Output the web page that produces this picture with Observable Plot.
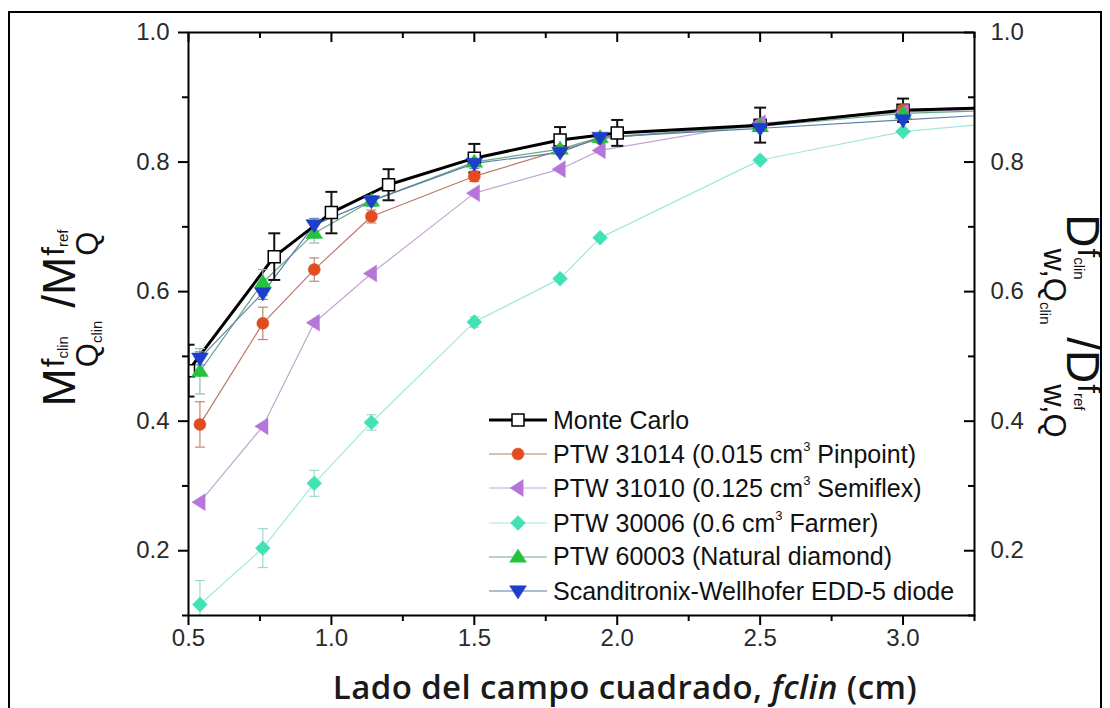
<!DOCTYPE html>
<html>
<head>
<meta charset="utf-8">
<script src="https://cdn.jsdelivr.net/npm/d3@7"></script>
<script src="https://cdn.jsdelivr.net/npm/@observablehq/plot@0.6"></script>
<style>
  body { margin: 0; background: #fff; }
  #wrap { position: relative; width: 1110px; height: 708px; overflow: hidden; background: #fff;
          font-family: "Liberation Sans", Arial, sans-serif; }
  #chart { position: absolute; left: 0; top: 0; }
  #frame { position: absolute; left: 8px; top: 11px; width: 1094px; height: 720px; border: 2px solid #000;
           box-sizing: border-box; pointer-events: none; }
  .ylab { position: absolute; white-space: nowrap; color: #111; line-height: 1; }
  .ylab .big { font-size: 46px; }
  .stack { display: inline-flex; flex-direction: column; vertical-align: middle; line-height: 1; margin-left: 1px; }
  .stack .sp { font-size: 31px; margin-bottom: 2px; }
  .stack .sb { font-size: 31px; }
  .stack sub { font-size: 15px; vertical-align: -4px; }
  #legend { position: absolute; left: 487px; top: 403px; font-size: 25px; color: #111; }
  #legend .row { height: 34.2px; display: flex; align-items: center; white-space: nowrap; }
  #legend svg { width: 62px; height: 30px; margin-right: 4px; }
  #legend sup { font-size: 13px; vertical-align: 12px; }
  #xtitle { position: absolute; left: 625px; top: 686px; transform: translate(-50%, -50%);
            font-family: "Open Sans", sans-serif; font-size: 33px; font-weight: 600; letter-spacing: 0.4px;
            color: #1a1a1a; white-space: nowrap; }
</style>
</head>
<body>
<div id="wrap">
  <div id="chart"></div>
  <div id="legend"></div>
  <div id="xtitle">Lado del campo cuadrado, <i>fclin</i> (cm)</div>
  <div id="frame"></div>
</div>
<script>
// ---------------- data ----------------
const xMC  = [0.50, 0.80, 1.00, 1.20, 1.50, 1.80, 2.00, 2.50, 3.00, 3.50];
const xDet = [0.54, 0.76, 0.94, 1.14, 1.50, 1.80, 1.94, 2.50, 3.00, 3.50];

const mcVal   = [0.478, 0.654, 0.722, 0.765, 0.806, 0.834, 0.845, 0.857, 0.880, 0.886];
const mcErr   = [0.040, 0.036, 0.032, 0.024, 0.022, 0.020, 0.020, 0.027, 0.018, 0];

const p31014Val = [0.395, 0.551, 0.634, 0.716, 0.778, 0.818, 0.836, 0.858, 0.881, 0.888];
const p31014Err = [0.035, 0.025, 0.018, 0.010, 0.008, 0, 0, 0, 0, 0];

const p31010Val = [0.275, 0.392, 0.552, 0.628, 0.752, 0.789, 0.818, 0.860, 0.877, 0.885];
const p31010Err = [0, 0, 0, 0, 0, 0, 0, 0, 0, 0];

const p30006Val = [0.117, 0.204, 0.304, 0.398, 0.553, 0.620, 0.683, 0.803, 0.847, 0.867];
const p30006Err = [0.037, 0.030, 0.020, 0.012, 0.008, 0, 0, 0, 0, 0];

const p60003Val = [0.477, 0.614, 0.690, 0.740, 0.800, 0.820, 0.838, 0.855, 0.875, 0.882];
const p60003Err = [0.035, 0.020, 0.015, 0.008, 0, 0, 0, 0, 0, 0];

const eddVal = [0.497, 0.598, 0.703, 0.740, 0.798, 0.815, 0.838, 0.852, 0.865, 0.878];
const eddErr = [0.010, 0.010, 0.010, 0.008, 0.008, 0, 0, 0, 0, 0];

const seriesLabels = [
  "Monte Carlo",
  "PTW 31014 (0.015 cm<sup>3</sup> Pinpoint)",
  "PTW 31010 (0.125 cm<sup>3</sup> Semiflex)",
  "PTW 30006 (0.6 cm<sup>3</sup> Farmer)",
  "PTW 60003 (Natural diamond)",
  "Scanditronix-Wellhofer EDD-5 diode"
];

const xMajor = [0.5, 1.0, 1.5, 2.0, 2.5, 3.0];
const xMinor = [0.75, 1.25, 1.75, 2.25, 2.75, 3.25];
const yMajor = [0.2, 0.4, 0.6, 0.8, 1.0];
const yMinor = [0.1, 0.3, 0.5, 0.7, 0.9];

// ---------------- symbols ----------------
const triDown = { draw(c, size) { const r = Math.sqrt(size / Math.PI) * 1.2;
  c.moveTo(-r, -r * 0.62); c.lineTo(r, -r * 0.62); c.lineTo(0, r * 0.95); c.closePath(); } };
const triUp = { draw(c, size) { const r = Math.sqrt(size / Math.PI) * 1.2;
  c.moveTo(-r, r * 0.62); c.lineTo(r, r * 0.62); c.lineTo(0, -r * 0.95); c.closePath(); } };
const triLeft = { draw(c, size) { const r = Math.sqrt(size / Math.PI) * 1.2;
  c.moveTo(r * 0.62, -r); c.lineTo(r * 0.62, r); c.lineTo(-r * 0.95, 0); c.closePath(); } };
const diamond = { draw(c, size) { const r = Math.sqrt(size / Math.PI) * 1.15;
  c.moveTo(0, -r); c.lineTo(r, 0); c.lineTo(0, r); c.lineTo(-r, 0); c.closePath(); } };
const square = { draw(c, size) { const r = Math.sqrt(size / Math.PI);
  c.moveTo(-r, -r); c.lineTo(r, -r); c.lineTo(r, r); c.lineTo(-r, r); c.closePath(); } };
const circle = { draw(c, size) { const r = Math.sqrt(size / Math.PI); c.moveTo(r, 0); c.arc(0, 0, r, 0, 2 * Math.PI); } };
const cap = { draw(c, size) { const r = Math.sqrt(size / Math.PI); c.moveTo(-r, 0); c.lineTo(r, 0); } };

// style configuration (separate from data)
const series = [
  { x: xMC,  v: mcVal,     e: mcErr,     label: seriesLabels[0], line: "#000", lw: 3, err: "#111", ew: 2, capR: 6,
    sym: square, r: 6, fill: "#fff", stroke: "#000", sw: 1.5 },
  { x: xDet, v: p31014Val, e: p31014Err, label: seriesLabels[1], line: "#b97a68", lw: 1.2, err: "#c0866f", ew: 1.2, capR: 5,
    sym: circle, r: 6, fill: "#e34b20", stroke: "#e34b20", sw: 0.5 },
  { x: xDet, v: p31010Val, e: p31010Err, label: seriesLabels[2], line: "#c3a6d3", lw: 1.2, err: "#c3a6d3", ew: 1.2, capR: 5,
    sym: triLeft, r: 7, fill: "#b676d9", stroke: "#b676d9", sw: 0.5 },
  { x: xDet, v: p30006Val, e: p30006Err, label: seriesLabels[3], line: "#a2e7df", lw: 1.2, err: "#9fd8cf", ew: 1.2, capR: 5,
    sym: diamond, r: 6.5, fill: "#43e2b6", stroke: "#43e2b6", sw: 0.5 },
  { x: xDet, v: p60003Val, e: p60003Err, label: seriesLabels[4], line: "#6aa98a", lw: 1.2, err: "#8fbfa0", ew: 1.2, capR: 5,
    sym: triUp, r: 7, fill: "#25c23e", stroke: "#25c23e", sw: 0.5 },
  { x: xDet, v: eddVal,    e: eddErr,    label: seriesLabels[5], line: "#5d7cae", lw: 1.2, err: "#6d88b8", ew: 1.2, capR: 5,
    sym: triDown, r: 7, fill: "#1d3fca", stroke: "#1d3fca", sw: 0.5 }
];

const rowsOf = s => s.x.map((x, i) => ({ x, y: s.v[i], e: s.e[i] }));

// ---------------- layout ----------------
const W = 1110, H = 708, mL = 188, mR = 136, mT = 32, mB = 93;
const plotW = W - mL - mR, plotH = H - mT - mB;

const marks = [];
series.slice(1).forEach(s => marks.push(Plot.line(rowsOf(s), { x: "x", y: "y", stroke: s.line, strokeWidth: s.lw, clip: true })));
marks.push(Plot.line(rowsOf(series[0]), { x: "x", y: "y", stroke: series[0].line, strokeWidth: series[0].lw, clip: true }));

series.forEach(s => {
  const rows = rowsOf(s).filter(d => d.e > 0);
  marks.push(Plot.ruleX(rows, { x: "x", y1: d => d.y - d.e, y2: d => d.y + d.e, stroke: s.err, strokeWidth: s.ew, clip: true }));
  marks.push(Plot.dot(rows, { x: "x", y: d => d.y + d.e, symbol: cap, r: s.capR, fill: "none", stroke: s.err, strokeWidth: s.ew, clip: true }));
  marks.push(Plot.dot(rows, { x: "x", y: d => d.y - d.e, symbol: cap, r: s.capR, fill: "none", stroke: s.err, strokeWidth: s.ew, clip: true }));
});

series.forEach(s => marks.push(Plot.dot(rowsOf(s), { x: "x", y: "y", symbol: s.sym, r: s.r, fill: s.fill, stroke: s.stroke, strokeWidth: s.sw, clip: true })));

const fmt = d3.format(".1f");
marks.push(
  Plot.axisY(yMajor, { anchor: "left", tickSize: 10, tickPadding: 9, tickFormat: fmt, label: null, strokeWidth: 2, fill: "#2a2a2a" }),
  Plot.axisY(yMinor, { anchor: "left", tickSize: 6, tickFormat: () => "", label: null, strokeWidth: 2, fill: "none" }),
  Plot.axisY(yMajor, { anchor: "right", tickSize: 0, tickPadding: 16, tickFormat: fmt, label: null, fill: "#2a2a2a" }),
  Plot.tickY(yMajor, { y: d => d, insetLeft: plotW - 10, stroke: "#000", strokeWidth: 2 }),
  Plot.tickY(yMinor, { y: d => d, insetLeft: plotW - 6, stroke: "#000", strokeWidth: 2 }),
  Plot.axisX(xMajor, { anchor: "bottom", tickSize: 10, tickPadding: 3, tickFormat: fmt, label: null, strokeWidth: 2, fill: "#2a2a2a" }),
  Plot.axisX(xMinor, { anchor: "bottom", tickSize: 6, tickFormat: () => "", label: null, strokeWidth: 2, fill: "none" }),
  Plot.tickX(xMajor, { x: d => d, insetBottom: plotH - 10, stroke: "#000", strokeWidth: 2 }),
  Plot.tickX(xMinor, { x: d => d, insetBottom: plotH - 6, stroke: "#000", strokeWidth: 2 }),
  Plot.frame({ stroke: "#000", strokeWidth: 2 })
);

const chart = Plot.plot({
  width: W, height: H,
  marginLeft: mL, marginRight: mR, marginTop: mT, marginBottom: mB,
  x: { type: "linear", domain: [0.5, 3.25] },
  y: { type: "linear", domain: [0.1, 1.0] },
  style: { fontFamily: "'Liberation Sans', Arial, sans-serif", fontSize: "24px", color: "#000", background: "transparent" },
  marks
});
document.getElementById("chart").appendChild(chart);

function addLabel(html, cx, cy, rot) {
  const d = document.createElement("div");
  d.className = "ylab";
  d.innerHTML = html;
  d.style.left = cx + "px";
  d.style.top = cy + "px";
  d.style.transform = `translate(-50%, -50%) rotate(${rot}deg)`;
  document.getElementById("wrap").insertBefore(d, document.getElementById("frame"));
}
addLabel(
  '<span class="big">M</span><span class="stack"><span class="sp">f<sub>clin</sub></span><span class="sb">Q<sub>clin</sub></span></span>' +
  '<span class="big"> /M</span><span class="stack"><span class="sp">f<sub>ref</sub></span><span class="sb">Q</span></span>',
  70, 318, -90);
addLabel(
  '<span class="big">D</span><span class="stack"><span class="sp">f<sub>clin</sub></span><span class="sb">w,Q<sub>clin</sub></span></span>' +
  '<span class="big"> /D</span><span class="stack"><span class="sp">f<sub>ref</sub></span><span class="sb">w,Q</span></span>',
  1072, 326, 90);

const legend = document.getElementById("legend");
series.forEach(s => {
  const row = document.createElement("div");
  row.className = "row";
  const sym = d3.symbol(s.sym, Math.PI * s.r * s.r)();
  row.innerHTML =
    `<svg viewBox="0 0 62 30"><line x1="2" x2="60" y1="15" y2="15" stroke="${s.line}" stroke-width="${s.lw}"/>` +
    `<path transform="translate(31,15)" d="${sym}" fill="${s.fill}" stroke="${s.stroke}" stroke-width="${s.sw}"/></svg>` +
    `<span>${s.label}</span>`;
  legend.appendChild(row);
});
</script>
</body>
</html>
